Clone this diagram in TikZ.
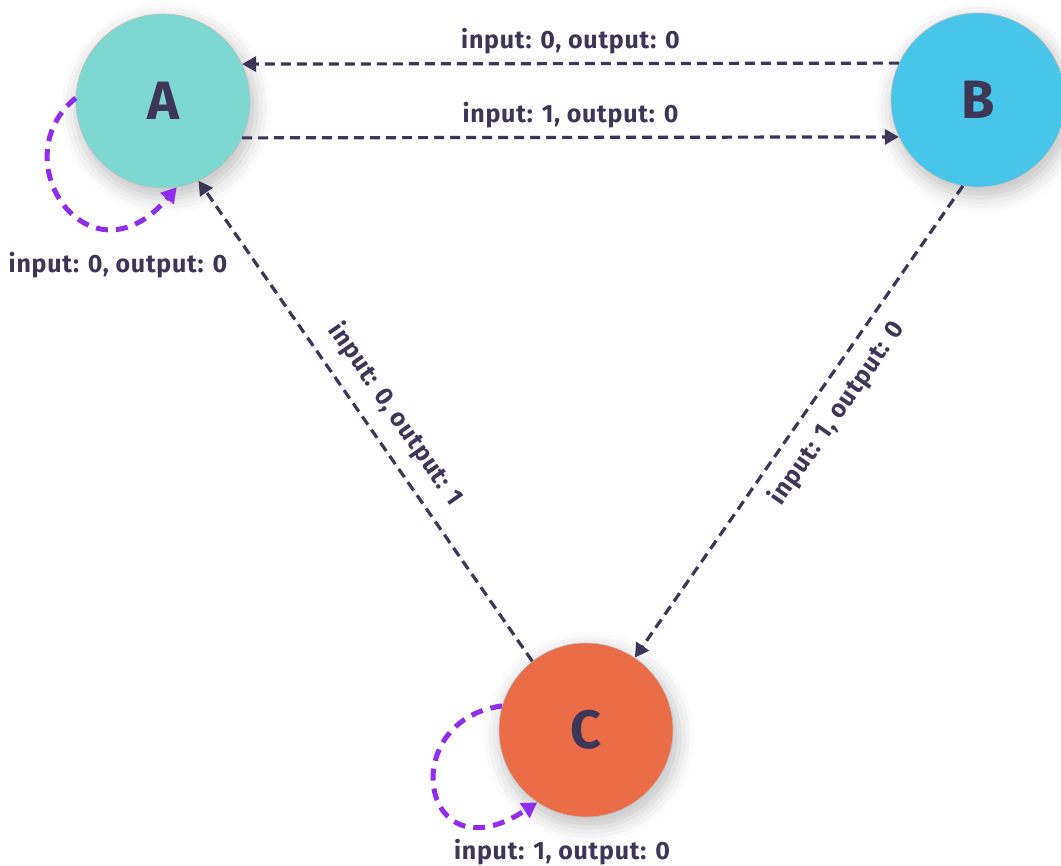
\documentclass[tikz,border=0pt]{standalone}
\usepackage{fontspec}
\setmainfont{Fira Sans}
\usetikzlibrary{arrows.meta,shadows.blur}

\definecolor{ink}{HTML}{3D3656}
\definecolor{teal}{HTML}{7ED8D0}
\definecolor{sky}{HTML}{48C6EA}
\definecolor{coral}{HTML}{EA6D48}
\definecolor{violet}{HTML}{8E2DEB}

\tikzset{
  state/.style={circle, minimum size=174pt, inner sep=0pt, draw=black!25, line width=0.6pt,
    text=ink, font=\fontsize{54}{60}\selectfont\bfseries,
    blur shadow={shadow xshift=3pt, shadow yshift=-7pt, shadow blur radius=14pt,
      shadow opacity=22, shadow scale=1.04}},
  trans/.style={ink, line width=3.2pt, dash pattern=on 10pt off 6pt,
    -{Triangle[length=14pt,width=15pt]}},
  loopedge/.style={violet, line width=5pt, dash pattern=on 12pt off 8pt,
    -{Triangle[length=15pt,width=17pt]}},
  lbl/.style={text=ink, font=\fontsize{25}{28}\selectfont\bfseries\addfontfeature{LetterSpace=3},
    inner sep=2pt}
}

\begin{document}
\begin{tikzpicture}[x=1pt,y=-1pt]
  \useasboundingbox (0,0) rectangle (1061,866);

  % states
  \node[state, fill=teal]  (A) at (163,101) {A};
  \node[state, fill=sky]   (B) at (978,100) {B};
  \node[state, fill=coral] (C) at (586,730) {C};

  % transitions between states
  \draw[trans] (B.155) -- node[lbl, above=6pt] (lba) {input: 0, output: 0} (A.25);
  \draw[trans] (A.-25) -- node[lbl, above=6pt] (lab) {input: 1, output: 0} (B.205);
  \draw[trans] (C.128) -- node[lbl, sloped, above=12pt, pos=0.48] (lca) {input: 0, output: 1} (A.-66);
  \draw[trans] (B.-100) -- node[lbl, sloped, below=10pt, pos=0.45] (lbc) {input: 1, output: 0} (C.56);

  % self loops
  \draw[loopedge] (A.178) .. controls (0,160) and (90,290) .. (A.-81);
  \node[lbl] (laa) at (118,265) {input: 0, output: 0};

  \draw[loopedge] (C.164) .. controls (395,720) and (420,880) .. (C.-124);
  \node[lbl] (lcc) at (562,852) {input: 1, output: 0};
\end{tikzpicture}
\end{document}
